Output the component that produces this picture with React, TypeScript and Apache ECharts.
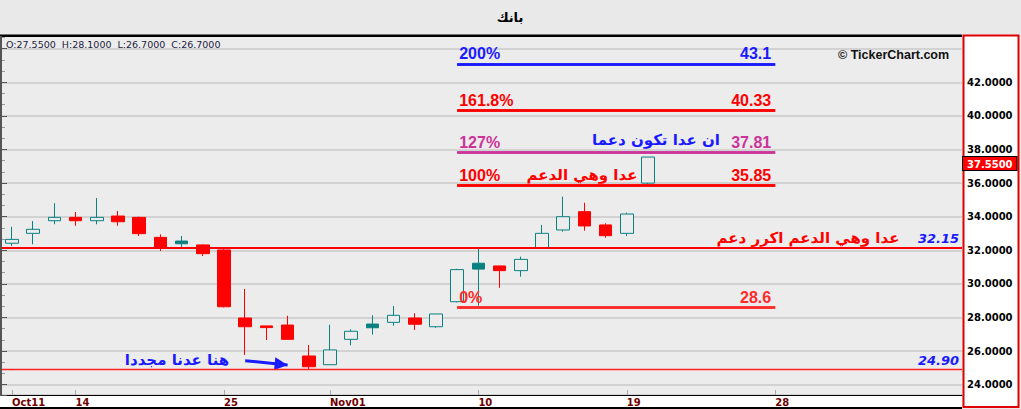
import React, { useEffect, useRef } from 'react';
import * as echarts from 'echarts';

// ---------- data ----------
const dates = [
  'Oct11', 'Oct12', 'Oct13', 'Oct14', 'Oct15', 'Oct18', 'Oct19', 'Oct20', 'Oct21', 'Oct22',
  'Oct25', 'Oct26', 'Oct27', 'Oct28', 'Oct29', 'Nov01', 'Nov02', 'Nov03', 'Nov04', 'Nov05',
  'Nov08', 'Nov09', 'Nov10', 'Nov11', 'Nov12', 'Nov15', 'Nov16', 'Nov17', 'Nov18', 'Nov19',
  'Nov22', 'Nov23', 'Nov24', 'Nov25', 'Nov26', 'Nov27', 'Nov28', 'Nov29', 'Nov30', 'Dec01',
  'Dec02', 'Dec03', 'Dec04', 'Dec05', 'Dec06',
];
const shownTicks = ['Oct11', 'Oct14', 'Oct25', 'Nov01', 'Nov10', 'Nov19', 'Nov28'];

const opens = [32.42, 33.01, 33.76, 33.96, 33.76, 34.04, 33.96, 32.77, 32.55, 32.32, 32.02, 27.97, 27.50, 27.55, 25.71, 25.19, 26.70, 27.61, 27.71, 27.97, 27.45, 28.94, 31.23, 31.07, 30.79, 32.15, 33.21, 34.30, 33.51, 33.01, 36.00];
const closes = [32.65, 33.25, 33.96, 33.76, 33.96, 33.70, 32.99, 32.12, 32.39, 31.80, 28.64, 27.45, 27.40, 26.70, 25.07, 26.07, 27.18, 27.39, 28.13, 27.60, 28.21, 30.85, 30.88, 30.79, 31.46, 33.01, 34.00, 33.45, 32.87, 34.16, 37.55];
const lows = [32.26, 32.36, 33.55, 33.46, 33.55, 33.46, 32.85, 31.96, 32.18, 31.66, 28.60, 25.77, 26.66, 26.70, 24.90, 25.19, 26.35, 26.98, 27.51, 27.26, 27.39, 28.90, 28.70, 29.77, 30.43, 32.10, 33.11, 33.17, 32.75, 32.85, 35.90];
const highs = [33.40, 33.74, 34.80, 34.28, 35.11, 34.34, 34.00, 32.95, 32.85, 32.35, 32.18, 29.70, 27.50, 28.10, 26.36, 27.57, 27.30, 28.13, 28.68, 28.25, 28.21, 30.90, 32.12, 31.07, 31.62, 33.51, 35.19, 34.83, 33.61, 34.24, 37.55];

const fibPercents = ['0%', '100%', '127%', '161.8%', '200%'];
const fibValues = [28.6, 35.85, 37.81, 40.33, 43.1];
const fibValueLabels = ['28.6', '35.85', '37.81', '40.33', '43.1'];
const fibColors = ['#ff2a2a', '#ff0000', '#cc3399', '#ff0000', '#1a1aff'];
const fibStart = 'Nov09';
const fibEnd = 'Nov28';

const supportValues = [32.15, 24.9];
const supportLabels = ['32.15', '24.90'];

const lastPrice = 37.55;
const lastPriceLabel = '37.5500';

const yTickValues = [24, 26, 28, 30, 32, 34, 36, 38, 40, 42];

const arrowFrom: [string, number] = ['Oct26', 25.43];
const arrowTo: [string, number] = ['Oct28', 25.17];

const ohlcText = 'O:27.5500  H:28.1000  L:26.7000  C:26.7000';
const titleText = 'بانك';
const notes = [
  { text: 'هنا عدنا مجددا', x: 177, y: 360, color: '#1a1aff' },
  { text: 'ان عدا تكون دعما', x: 656, y: 140, color: '#1a1aff' },
  { text: 'عدا وهي الدعم', x: 582, y: 175, color: '#ff0000' },
  { text: 'عدا وهي الدعم اكرر دعم', x: 808, y: 238, color: '#ff0000' },
];

// ---------- styles ----------
const TEAL = '#0a8080';
const RED = '#ff0000';
const PLOT_BG = '#ececec';
const Y_MIN = 23.387;
const Y_MAX = 44.756;

export default function App() {
  const ref = useRef<HTMLDivElement>(null);

  useEffect(() => {
    if (!ref.current) return;
    const chart = echarts.init(ref.current, null, { renderer: 'svg' });

    const candleData = opens.map((o, i) => {
      const c = closes[i];
      const prev = i === 0 ? o : closes[i - 1];
      const col = c >= prev ? TEAL : RED;
      const fill = c > o ? PLOT_BG : col;
      return {
        value: [o, c, lows[i], highs[i]],
        itemStyle: { color: fill, color0: fill, borderColor: col, borderColor0: col, borderWidth: 1 },
      };
    });

    const fibLines: any[] = [];
    fibValues.forEach((v, i) => {
      const lbl = {
        show: true,
        color: fibColors[i],
        fontWeight: 'bold',
        fontSize: 16,
        fontFamily: 'Liberation Sans, Arial, sans-serif',
        distance: [2, 2],
      };
      fibLines.push([
        {
          coord: [fibStart, v],
          lineStyle: { color: fibColors[i], width: 2.5, type: 'solid' },
          label: { ...lbl, position: 'insideStartTop', formatter: fibPercents[i] },
        },
        { coord: [fibEnd, v] },
      ]);
      fibLines.push([
        {
          coord: [fibStart, v],
          lineStyle: { color: fibColors[i], width: 2.5, type: 'solid' },
          label: { ...lbl, position: 'insideEndTop', formatter: fibValueLabels[i], distance: [4, 2] },
        },
        { coord: [fibEnd, v] },
      ]);
    });

    const arrowLine = [
      {
        coord: arrowFrom,
        lineStyle: { color: '#1a1aff', width: 3, type: 'solid' },
        label: { show: false },
      },
      { coord: arrowTo },
    ];

    const supportLines = supportValues.map((v, i) => ({
      yAxis: v,
      lineStyle: { color: i === 0 ? '#ff0000' : '#ff2020', width: i === 0 ? 2 : 1.3, type: 'solid' },
      label: {
        show: true,
        position: 'insideEndTop',
        formatter: supportLabels[i],
        color: '#1a1aff',
        fontWeight: 'bold',
        fontStyle: 'italic',
        fontSize: 13,
        fontFamily: 'DejaVu Sans, sans-serif',
        distance: [3, 3],
      },
    }));

    const priceLine = {
      yAxis: lastPrice,
      lineStyle: { color: 'rgba(0,0,0,0)', width: 1, type: 'solid' },
      label: {
        show: true,
        position: 'end',
        formatter: lastPriceLabel,
        color: '#fff',
        backgroundColor: '#ff0000',
        borderColor: '#000',
        borderWidth: 1,
        padding: [2, 4, 1, 4],
        fontWeight: 'bold',
        fontSize: 10,
        fontFamily: 'DejaVu Sans, sans-serif',
        distance: 1,
        verticalAlign: 'top',
      },
    };

    const option: any = {
      animation: false,
      backgroundColor: '#e9e9e9',
      grid: [
        { left: 1.4, width: 954, top: 36, height: 359, show: false },
        { left: 2, right: 59, top: 36, height: 359, show: true, backgroundColor: PLOT_BG, borderWidth: 0 },
      ],
      xAxis: [
        {
          type: 'category',
          gridIndex: 0,
          data: dates,
          boundaryGap: true,
          axisLine: { show: false },
          axisTick: {
            show: true,
            inside: true,
            length: 5,
            alignWithLabel: true,
            interval: (_i: number, v: string) => shownTicks.includes(v),
            lineStyle: { color: '#a8a8a8', width: 1 },
          },
          axisLabel: {
            interval: (_i: number, v: string) => shownTicks.includes(v),
            formatter: (v: string) => (v === dates[0] || v.endsWith('01') ? v : String(parseInt(v.slice(3), 10))),
            align: 'left',
            margin: 2,
            color: '#700000',
            fontWeight: 'bold',
            fontSize: 10,
            fontFamily: 'DejaVu Sans, sans-serif',
          },
          splitLine: { show: false },
        },
        {
          type: 'value',
          gridIndex: 1,
          min: 0,
          max: 1,
          axisLine: { show: true, lineStyle: { color: '#000', width: 1 } },
          axisTick: { show: false },
          axisLabel: { show: false },
          splitLine: { show: false },
        },
      ],
      yAxis: [
        { type: 'value', gridIndex: 0, min: Y_MIN, max: Y_MAX, show: false, splitLine: { show: false } },
        {
          type: 'value',
          gridIndex: 1,
          position: 'right',
          min: Y_MIN,
          max: Y_MAX,
          splitNumber: 10,
          axisLine: { show: false },
          axisTick: { show: true, length: 5, lineStyle: { color: '#555' } },
          minorTick: { show: true, splitNumber: 3, length: 3, lineStyle: { color: '#999' } },
          splitLine: { show: true, lineStyle: { color: '#d2d2d2', width: 2 } },
          axisLabel: {
            formatter: (v: number) => (yTickValues.some((t) => Math.abs(t - v) < 1e-6) ? v.toFixed(4) : ''),
            margin: 5,
            color: '#000',
            fontWeight: 'bold',
            fontSize: 10,
            fontFamily: 'DejaVu Sans, sans-serif',
          },
        },
      ],
      series: [
        {
          type: 'candlestick',
          xAxisIndex: 0,
          yAxisIndex: 0,
          barWidth: 13,
          data: candleData,
          markLine: {
            silent: true,
            symbol: ['none', 'none'],
            data: fibLines,
          },
        },
        {
          type: 'candlestick',
          xAxisIndex: 0,
          yAxisIndex: 0,
          data: [],
          markLine: {
            silent: true,
            symbol: ['none', 'triangle'],
            symbolSize: [13, 13],
            symbolOffset: [0, [0, 6.5]],
            data: [arrowLine],
          },
        },
        {
          type: 'line',
          xAxisIndex: 1,
          yAxisIndex: 1,
          data: [],
          markLine: {
            silent: true,
            symbol: ['none', 'none'],
            data: [...supportLines, priceLine],
          },
        },
      ],
      graphic: [
        { type: 'rect', z: -1, shape: { x: 0, y: 396, width: 962, height: 11 }, style: { fill: '#fff' } },
        { type: 'rect', z: 50, shape: { x: 0, y: 407, width: 962, height: 2 }, style: { fill: '#000' } },
        { type: 'rect', z: 50, shape: { x: 0, y: 34.5, width: 962, height: 2.5 }, style: { fill: '#000' } },
        { type: 'rect', z: 50, shape: { x: 0, y: 36, width: 2, height: 360 }, style: { fill: '#555' } },
        {
          type: 'rect',
          z: -1,
          shape: { x: 963.5, y: 35.5, width: 55, height: 371.5 },
          style: { fill: '#fff', stroke: '#e00000', lineWidth: 2 },
        },
        {
          type: 'text',
          z: 60,
          x: 510,
          y: 17,
          style: { text: titleText, font: 'bold 13px "DejaVu Sans"', fill: '#000', align: 'center', verticalAlign: 'middle' },
        },
        {
          type: 'text',
          z: 60,
          x: 6,
          y: 44,
          style: { text: ohlcText, font: '9.5px "DejaVu Sans"', fill: '#1a1a40', align: 'left', verticalAlign: 'middle' },
        },
        {
          type: 'text',
          z: 60,
          x: 838,
          y: 55,
          style: { text: '© TickerChart.com', font: 'bold 12.5px "Liberation Sans"', fill: '#111', align: 'left', verticalAlign: 'middle' },
        },
        ...notes.map((n) => ({
          type: 'text',
          z: 60,
          x: n.x,
          y: n.y,
          style: { text: n.text, font: 'bold 15px "DejaVu Sans"', fill: n.color, align: 'center', verticalAlign: 'middle' },
        })),
      ],
    };

    chart.setOption(option);
    return () => chart.dispose();
  }, []);

  return (
    <div
      ref={ref}
      style={{ position: 'absolute', left: 0, top: 0, width: 1021, height: 409 }}
    />
  );
}
